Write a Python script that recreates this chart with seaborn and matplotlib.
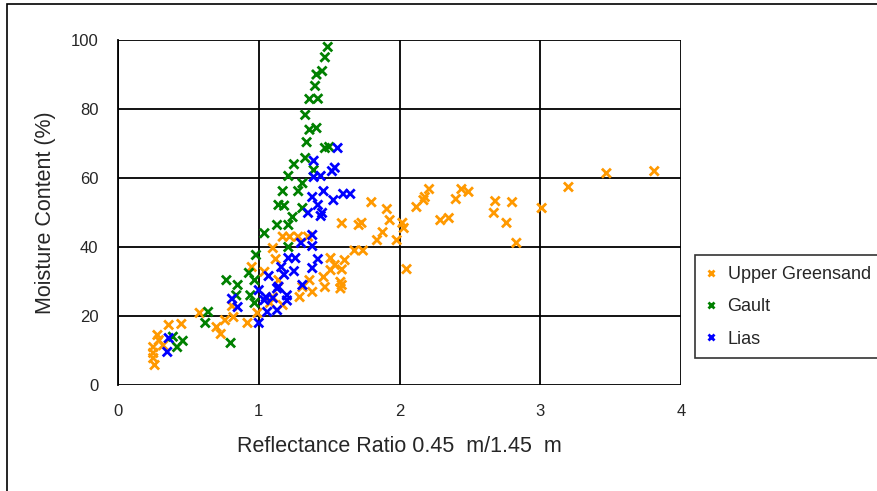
import matplotlib
matplotlib.use("Agg")
import matplotlib.pyplot as plt
import seaborn as sns
import pandas as pd
from matplotlib.patches import Rectangle
from matplotlib.lines import Line2D

# ---- data ----
ug_x = [3.81, 3.47, 3.20, 3.01, 2.83, 2.80, 2.68, 2.67, 2.76, 2.49, 2.44, 2.40, 2.21, 2.18, 2.17,
        2.12, 2.35, 2.29, 2.05, 2.02, 2.03, 1.98, 1.91, 1.93, 1.88, 1.84, 1.80, 1.73, 1.71, 1.68,
        1.74, 1.61, 1.59, 1.59, 1.59, 1.51, 1.54, 1.51, 1.46, 1.47, 1.58, 1.58, 1.36, 1.38, 1.29,
        1.31, 1.17, 1.22, 1.28, 1.10, 1.12, 1.04, 1.14, 1.10, 1.08, 1.17, 0.99, 0.92, 0.82, 0.76,
        0.81, 0.58, 0.70, 0.73, 0.36, 0.45, 0.28, 0.29, 0.25, 0.25, 0.26, 0.25, 0.32, 0.95, 1.35]
ug_y = [62, 61.4, 57.4, 51.3, 41.2, 53, 53.3, 49.9, 47, 56, 56.8, 53.9, 56.8, 54.5, 53.6,
        51.6, 48.4, 47.8, 33.6, 47, 45.5, 42, 51, 47.8, 44.3, 42, 53, 47, 46.4, 39,
        39, 36.2, 33.5, 29, 46.9, 36.8, 34.8, 33.3, 31.3, 28.4, 29.9, 28, 30.4, 27, 25.5,
        28.4, 43, 43, 43, 39.7, 36.5, 32.8, 30.4, 25.5, 23.8, 23.2, 20.9, 18, 19.7, 18.8,
        22.9, 20.9, 16.8, 14.8, 17.4, 17.7, 14.5, 13, 9.3, 7.8, 5.8, 11, 11.5, 34.2, 43]

gault_x = [1.49, 1.47, 1.45, 1.41, 1.40, 1.36, 1.42, 1.33, 1.41, 1.36, 1.34, 1.47, 1.50, 1.33,
           1.25, 1.39, 1.21, 1.31, 1.17, 1.28, 1.14, 1.18, 1.31, 1.24, 1.13, 1.21, 1.04, 1.21,
           0.98, 0.93, 0.97, 0.77, 0.85, 0.84, 0.94, 0.97, 0.64, 0.62, 0.80, 0.39, 0.46, 0.42]
gault_y = [98, 95, 91, 90, 86.7, 82.9, 83, 78.3, 74.5, 74, 70.4, 68.7, 69, 65.8,
           64, 62.3, 60.6, 58.5, 56.2, 56.2, 52.2, 52, 51.3, 48.7, 46.4, 46.4, 44, 40,
           37.7, 32.5, 30.4, 30.4, 29, 26, 26, 23.8, 21.2, 18, 12.2, 14, 12.8, 11]

lias_x = [1.56, 1.54, 1.52, 1.39, 1.44, 1.39, 1.46, 1.38, 1.53, 1.60, 1.65, 1.42, 1.35, 1.45,
          1.44, 1.38, 1.30, 1.38, 1.42, 1.38, 1.21, 1.26, 1.16, 1.25, 1.07, 1.18, 1.13, 1.20,
          1.31, 1.00, 1.04, 1.10, 1.13, 1.06, 0.85, 0.81, 1.00, 0.36, 0.35, 1.14, 1.05, 1.20]
lias_y = [68.7, 63, 62, 65, 60.6, 60.3, 56.2, 54.5, 53.6, 55.4, 55.4, 52.2, 49.9, 49.9,
          49, 43.5, 41.2, 40.3, 36.5, 33.9, 36.8, 36.8, 34.2, 33, 31.6, 32, 28, 26,
          29, 27.5, 24.6, 25.2, 21.7, 21.2, 22.6, 25, 18, 13.6, 9.6, 28.5, 25.5, 24.5]

series = ["Upper Greensand", "Gault", "Lias"]
colors = ["#FF9900", "#008000", "#0000FF"]
x_ticks = [0, 1, 2, 3, 4]
y_ticks = [0, 20, 40, 60, 80, 100]

df = pd.concat([
    pd.DataFrame({"x": ug_x, "y": ug_y, "Soil": series[0]}),
    pd.DataFrame({"x": gault_x, "y": gault_y, "Soil": series[1]}),
    pd.DataFrame({"x": lias_x, "y": lias_y, "Soil": series[2]}),
])

sns.set_style("white")
plt.rcParams["font.family"] = ["Liberation Sans", "DejaVu Sans"]

fig = plt.figure(figsize=(8.77, 4.91), dpi=100)
ax = fig.add_axes([118 / 877, 1 - 385 / 491, (681 - 118) / 877, (385 - 40) / 491])

sns.scatterplot(data=df, x="x", y="y", hue="Soil", hue_order=series,
                palette=dict(zip(series, colors)), marker="x", s=42, linewidth=2,
                ax=ax, legend=False, zorder=3)

ax.set_xlim(0, 4)
ax.set_ylim(0, 100)
ax.set_xticks(x_ticks)
ax.set_yticks(y_ticks)
ax.set_xticklabels([str(t) for t in x_ticks], fontsize=12)
ax.set_yticklabels([str(t) for t in y_ticks], fontsize=12)
ax.tick_params(axis="both", direction="out", length=7, width=1.2, color="black", pad=7)
ax.grid(True, color="black", linewidth=1.3)
ax.set_axisbelow(True)
for side in ["top", "right", "bottom"]:
    ax.spines[side].set_visible(False)
ax.spines["left"].set_color("black")
ax.spines["left"].set_linewidth(1.3)

ax.set_xlabel("Reflectance Ratio 0.45  m/1.45  m", fontsize=15.5, labelpad=12)
ax.set_ylabel("Moisture Content (%)", fontsize=15.5, labelpad=11)

# legend
handles = [Line2D([], [], linestyle="none", marker="x", color=c, markersize=5, markeredgewidth=2)
           for c in colors]
leg = fig.legend(handles, series, loc="upper left",
                 bbox_to_anchor=(695 / 877, 1 - 255 / 491), fontsize=13,
                 frameon=True, fancybox=False, edgecolor="black", handlelength=0.6,
                 handletextpad=0.6, labelspacing=0.85, borderpad=0.6, borderaxespad=0)
leg.get_frame().set_linewidth(1.2)

# outer frame
fig.add_artist(Rectangle((7 / 877, -0.1), 1.2, 1 - 4 / 491 + 0.1,
                         transform=fig.transFigure, fill=False,
                         edgecolor="black", linewidth=1.2))

fig.savefig("out.png", dpi=100)
